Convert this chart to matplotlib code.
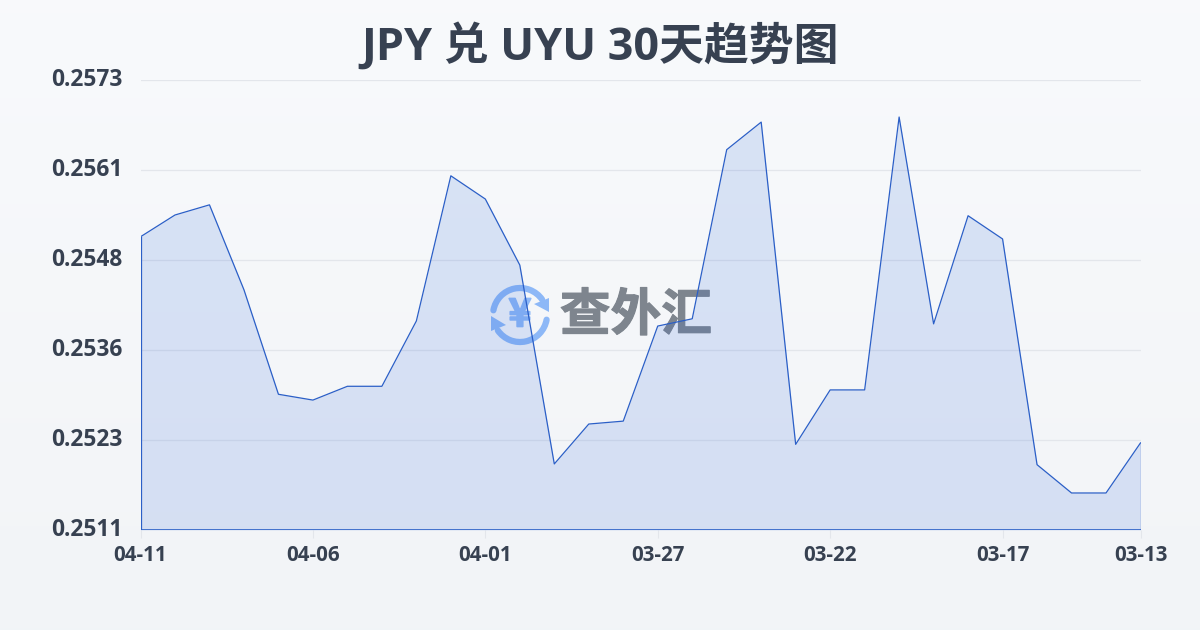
import numpy as np
import matplotlib
matplotlib.use("Agg")
import matplotlib.pyplot as plt
import matplotlib.patheffects as pe
from matplotlib.patches import Arc, Polygon
from matplotlib.transforms import ScaledTranslation

plt.rcParams['font.family'] = ['Open Sans', 'Noto Sans CJK SC', 'DejaVu Sans']

TITLE = "JPY 兑 UYU 30天趋势图"
WATERMARK = "查外汇"

# newest first, same as the x axis
dates = ["04-11", "04-10", "04-09", "04-08", "04-07", "04-06", "04-05", "04-04", "04-03", "04-02",
         "04-01", "03-31", "03-30", "03-29", "03-28", "03-27", "03-26", "03-25", "03-24", "03-23",
         "03-22", "03-21", "03-20", "03-19", "03-18", "03-17", "03-16", "03-15", "03-14", "03-13"]
rates = [0.25514, 0.25544, 0.25558, 0.25441, 0.25297, 0.25289, 0.25308, 0.25308, 0.25398, 0.25598,
         0.25566, 0.25475, 0.25201, 0.25256, 0.25260, 0.25391, 0.25401, 0.25634, 0.25672, 0.25228,
         0.25303, 0.25303, 0.25679, 0.25394, 0.25543, 0.25511, 0.25200, 0.25161, 0.25161, 0.25230]
y_ticks = [0.2511, 0.25234, 0.25358, 0.25482, 0.25606, 0.2573]
y_labels = ["0.2511", "0.2523", "0.2536", "0.2548", "0.2561", "0.2573"]

W, H = 1200, 630
LINE_COL = "#2b5fc7"
TEXT_COL = "#374151"
LOGO_COL = "#8db8f7"

fig = plt.figure(figsize=(W / 100, H / 100), dpi=100)

# Background gradient and watermark live in a full figure axes in pixel coords
bg = fig.add_axes([0, 0, 1, 1], zorder=0)
bg.set_xlim(0, W)
bg.set_ylim(H, 0)
bg.axis("off")
grad = np.linspace(0, 1, 256).reshape(-1, 1, 1)
top = np.array([0.973, 0.980, 0.988]).reshape(1, 1, 3)
bottom = np.array([0.949, 0.957, 0.969]).reshape(1, 1, 3)
bg.imshow(top + (bottom - top) * grad, extent=[0, W, H, 0], aspect="auto")

# Logo
bg.add_patch(Arc((520, 315), 54, 54, theta1=190, theta2=325, color=LOGO_COL, lw=4.5, capstyle="round"))
bg.add_patch(Arc((520, 315), 54, 54, theta1=10, theta2=145, color=LOGO_COL, lw=4.5, capstyle="round"))
bg.add_patch(Polygon([[549, 298], [549, 312], [534, 304]], color=LOGO_COL, lw=0))
bg.add_patch(Polygon([[491, 316], [491, 331], [506, 325]], color=LOGO_COL, lw=0))
bg.text(520, 315, "¥", color=LOGO_COL, fontsize=28, fontweight="bold", ha="center", va="center",
        family=['Noto Sans CJK SC', 'DejaVu Sans'],
        path_effects=[pe.withStroke(linewidth=1.2, foreground=LOGO_COL)])
bg.text(636, 316, WATERMARK, color="#7e858e", fontsize=36.5, fontweight="bold", ha="center", va="center",
        family=['Noto Sans CJK SC', 'DejaVu Sans'],
        path_effects=[pe.withStroke(linewidth=0.8, foreground="#7e858e")])

# Chart
ax = fig.add_axes([140.5 / W, 1 - 530 / H, 1000 / W, 450 / H], zorder=1)
ax.patch.set_alpha(0)
x = np.arange(len(rates))
ax.fill_between(x, rates, y_ticks[0], color="#2b65d8", alpha=0.15, lw=0)
ax.plot(x, rates, color=LINE_COL, lw=0.9)
ax.plot([0, 0], [y_ticks[0], rates[0]], color=LINE_COL, lw=0.9)
ax.plot([x[-1], x[-1]], [y_ticks[0], rates[-1]], color=LINE_COL, lw=0.9)
ax.plot([0, x[-1]], [y_ticks[0], y_ticks[0]], color=LINE_COL, lw=1.2)

ax.set_xlim(0, len(rates) - 1)
ax.set_ylim(y_ticks[0], y_ticks[-1])
ax.set_yticks(y_ticks, labels=y_labels)
ax.set_xticks(x[::5].tolist() + [x[-1]], labels=dates[::5] + [dates[-1]])
ax.grid(True, axis="y", color="#e3e6eb", lw=0.9)
ax.set_axisbelow(True)
for side in ax.spines:
    ax.spines[side].set_visible(False)
ax.tick_params(axis="y", length=0, pad=13, labelsize=16.4, labelcolor=TEXT_COL)
ax.tick_params(axis="x", length=6, width=0.8, color="#e3e6eb", pad=5, labelsize=14.8, labelcolor=TEXT_COL)
for lab in ax.get_xticklabels() + ax.get_yticklabels():
    lab.set_fontweight("bold")
up = ScaledTranslation(0, 3 / 100, fig.dpi_scale_trans)
for lab in ax.get_yticklabels():
    lab.set_transform(lab.get_transform() + up)

fig.text(0.5, 1 - 47 / H, TITLE, color=TEXT_COL, fontsize=32.3, fontweight="bold", ha="center", va="center")

fig.savefig("out.png", dpi=100)
plt.close()
